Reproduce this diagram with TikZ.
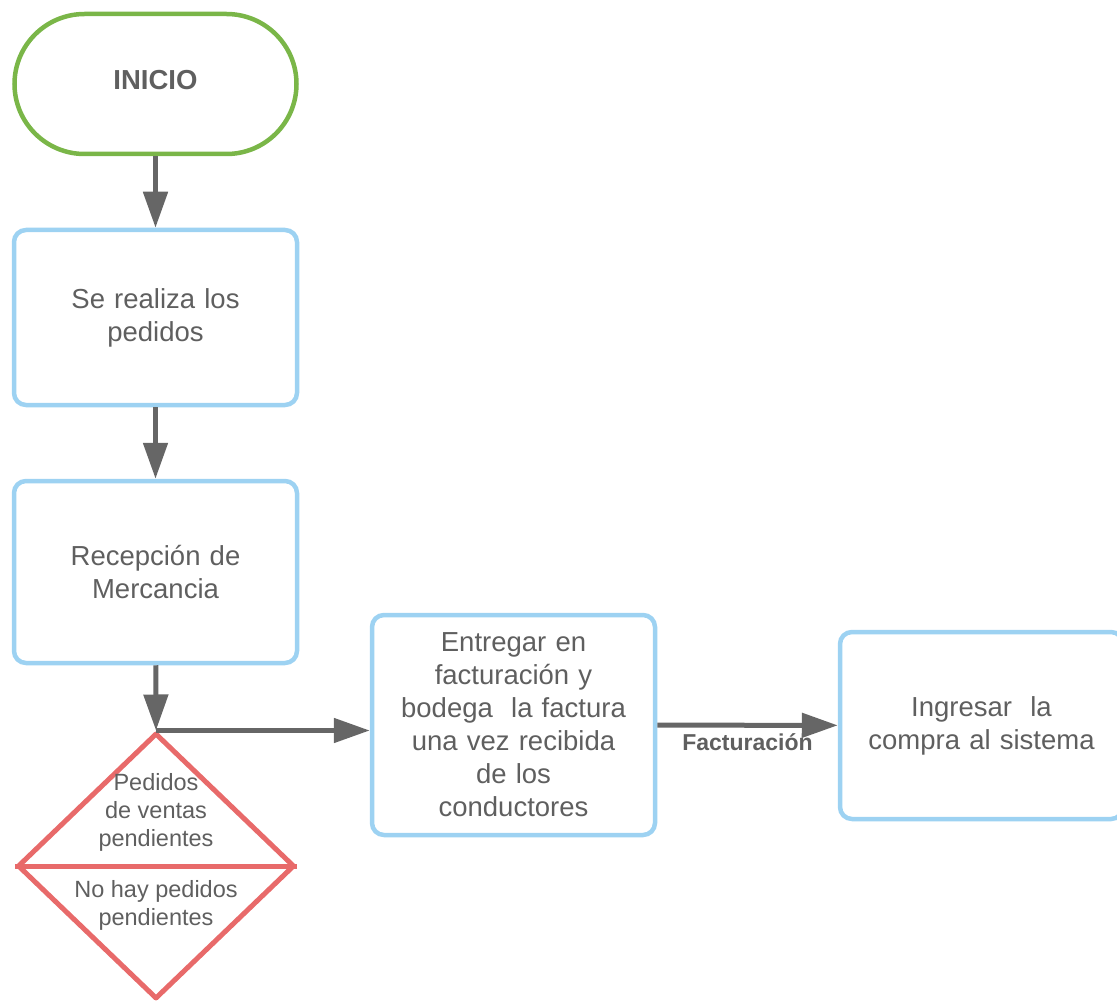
\documentclass[tikz,border=0pt]{standalone}
\usepackage{fontspec}
\setmainfont{Liberation Sans}
\usetikzlibrary{shapes.geometric,arrows.meta}
\definecolor{lineblue}{HTML}{9DD2F2}
\definecolor{linegreen}{HTML}{7AB648}
\definecolor{linered}{HTML}{E86A6A}
\definecolor{arrowgrey}{HTML}{666666}
\definecolor{textgrey}{HTML}{5F5F5F}
\newcommand{\boxfont}{\fontsize{27.5}{33}\selectfont}
\newcommand{\decfont}{\fontsize{23.5}{28}\selectfont}

\begin{document}
\begin{tikzpicture}[x=1pt, y=-1pt,
    proc/.style={draw=lineblue, line width=4.5pt, rectangle, rounded corners=12pt, minimum width=283pt, text width=270pt, align=center, text=textgrey, font=\boxfont, inner sep=0pt},
    term/.style={draw=linegreen, line width=4.5pt, rectangle, rounded corners=70pt, minimum width=282pt, minimum height=140pt, text depth=8pt, text=textgrey, font=\boxfont\bfseries, inner sep=0pt},
    deci/.style={draw=linered, line width=5pt, line join=round, diamond, minimum width=277pt, minimum height=266pt, inner sep=0pt},
    dectext/.style={align=center, text=textgrey, font=\decfont, inner sep=0pt},
    conn/.style={draw=arrowgrey, line width=5pt, -{Triangle[length=36pt,width=24pt]}}]
    \clip (0,0) rectangle (1117,1003);

    % Left column
    \node[term] (inicio) at (155.5,84) {INICIO};
    \node[proc, minimum height=175pt] (pedidos) at (155.5,317.5) {Se realiza los\\pedidos};
    \node[proc, minimum height=182pt] (recepcion) at (155.5,572) {Recepción de\\Mercancia};

    % Decision
    \node[deci] (dec) at (156,866) {};
    \draw[draw=linered, line width=5pt] (dec.west) -- (dec.east);
    \node[dectext] (dec-si) at (156,812) {Pedidos\\de ventas\\pendientes};
    \node[dectext] (dec-no) at (156,905) {No hay pedidos\\pendientes};

    % Right row
    \node[proc, minimum height=220pt] (entregar) at (513.5,725) {Entregar en\\facturación y\\bodega~ la factura\\una vez recibida\\de los\\conductores};
    \node[proc, minimum height=187pt] (ingresar) at (981.5,725.5) {Ingresar~ la\\compra al sistema};

    % Arrows
    \draw[conn] (inicio) -- (pedidos);
    \draw[conn] (pedidos) -- (recepcion);
    \draw[conn] (recepcion) -- (dec.north);
    \draw[conn] (dec.north) -- (dec.north -| entregar.west);
    \draw[conn] (entregar) -- node[midway, below=6pt, text=textgrey, font=\fontsize{23}{28}\selectfont\bfseries, inner sep=0pt] (fact) {Facturación} (ingresar);

\end{tikzpicture}
\end{document}
